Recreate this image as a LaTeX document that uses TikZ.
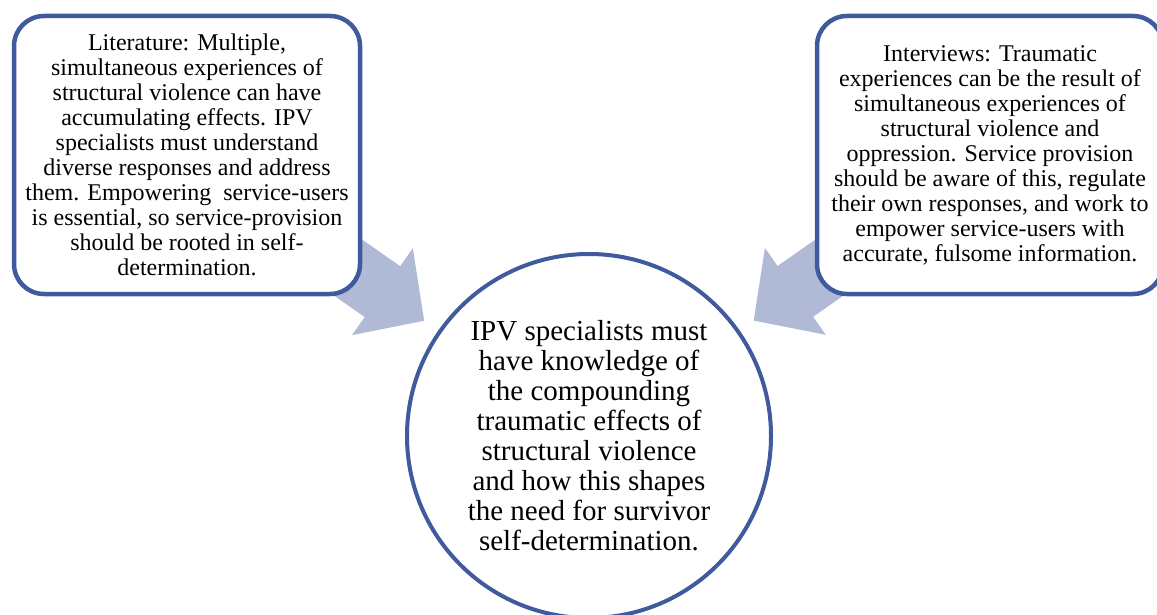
\documentclass[tikz,border=0pt]{standalone}
\usepackage{fontspec}
\setmainfont{Liberation Serif}
\usetikzlibrary{arrows.meta,backgrounds}
\definecolor{rim}{RGB}{63,90,157}
\definecolor{flowc}{RGB}{176,186,214}
\begin{document}
\begin{tikzpicture}[x=1pt, y=-1pt,
	card/.style={draw=rim, line width=4.5pt, fill=white, rounded corners=30pt,
		minimum width=346pt, minimum height=278pt, inner sep=0pt, align=center,
		font=\fontsize{24}{25}\selectfont},
	hub/.style={circle, draw=rim, line width=4pt, fill=white, minimum size=364pt,
		inner sep=0pt, align=center, font=\fontsize{29}{30}\selectfont},
	flow/.style={draw=flowc, line width=62pt, shorten >=17pt,
		-{Triangle[length=51pt, width=103pt]}}]
	\useasboundingbox (0,0) rectangle (1157,615);
	\node[card] (lit) at (187,155) {Literature: Multiple,\\simultaneous experiences of\\structural violence can have\\accumulating effects. IPV\\specialists must understand\\diverse responses and address\\them. Empowering~ service-users\\is essential, so service-provision\\should be rooted in self-\\determination.};
	\node[card] (intv) at (990,155) {Interviews: Traumatic\\experiences can be the result of\\simultaneous experiences of\\structural violence and\\oppression. Service provision\\should be aware of this, regulate\\their own responses, and work to\\empower service-users with\\accurate, fulsome information.};
	\node[hub] (core) at (589,436) {IPV specialists must\\have knowledge of\\the compounding\\traumatic effects of\\structural violence\\and how this shapes\\the need for survivor\\self-determination.};
	\begin{scope}[on background layer]
		\draw[flow] (lit.center) -- (core);
		\draw[flow] (intv.center) -- (core);
	\end{scope}
\end{tikzpicture}
\end{document}
